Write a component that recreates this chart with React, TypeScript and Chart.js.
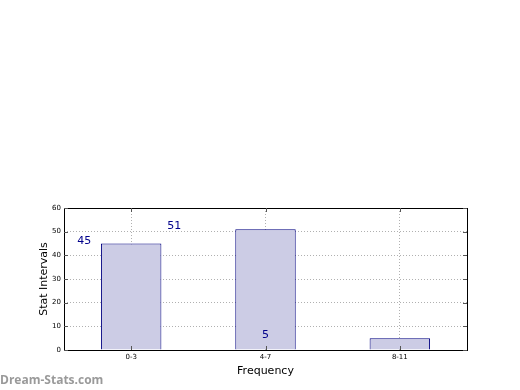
import React, { useEffect, useRef } from "react";
import { Chart, registerables } from "chart.js";

Chart.register(...registerables);

const categories = ["0-3", "4-7", "8-11"];
const values = [45, 51, 5];
const valueLabels = ["45", "51", "5"];
// label positions along the category axis (in category index units), as in the reference
const labelPositions = [-0.35, 0.32, 1.0];
const yTicks = [0, 10, 20, 30, 40, 50, 60];
const xTitle = "Frequency";
const yTitle = "Stat Intervals";

const frame = {
  id: "frame",
  afterDatasetsDraw(chart: any) {
    const { ctx, chartArea: a, scales } = chart;
    ctx.save();
    // value labels
    ctx.fillStyle = "#00008b";
    ctx.font = "11px 'DejaVu Sans'";
    ctx.textAlign = "center";
    ctx.textBaseline = "alphabetic";
    valueLabels.forEach((t, i) => {
      const x = scales.x.getPixelForValue(labelPositions[i]);
      const y = scales.y.getPixelForValue(values[i]);
      ctx.fillText(t, x, y);
    });
    // frame
    ctx.strokeStyle = "#000";
    ctx.lineWidth = 1;
    ctx.strokeRect(Math.round(a.left) + 0.5, Math.round(a.top) + 0.5, Math.round(a.right - a.left), Math.round(a.bottom - a.top));
    // inner ticks
    ctx.strokeStyle = "#555";
    yTicks.forEach((v) => {
      const y = Math.round(scales.y.getPixelForValue(v)) + 0.5;
      ctx.beginPath();
      ctx.moveTo(a.left, y);
      ctx.lineTo(a.left + 4, y);
      ctx.moveTo(a.right, y);
      ctx.lineTo(a.right - 4, y);
      ctx.stroke();
    });
    categories.forEach((_, i) => {
      const x = Math.round(scales.x.getPixelForValue(i)) + 0.5;
      ctx.beginPath();
      ctx.moveTo(x, a.bottom);
      ctx.lineTo(x, a.bottom - 4);
      ctx.moveTo(x, a.top);
      ctx.lineTo(x, a.top + 4);
      ctx.stroke();
    });
    // axis titles
    ctx.fillStyle = "#000";
    ctx.font = "11px 'DejaVu Sans'";
    ctx.textAlign = "center";
    ctx.textBaseline = "alphabetic";
    ctx.fillText(xTitle, (a.left + a.right) / 2, 374);
    ctx.save();
    ctx.translate(47, (a.top + a.bottom) / 2);
    ctx.rotate(-Math.PI / 2);
    ctx.fillText(yTitle, 0, 0);
    ctx.restore();
    // watermark
    ctx.fillStyle = "#9a9a9a";
    ctx.font = "bold 12px 'Open Sans'";
    ctx.textAlign = "left";
    ctx.fillText("Dream-Stats.com", 0, 384);
    ctx.restore();
  },
};

export default function App() {
  const ref = useRef<HTMLCanvasElement | null>(null);
  useEffect(() => {
    document.body.style.margin = "0";
    const chart = new Chart(ref.current as HTMLCanvasElement, {
      type: "bar",
      data: {
        labels: categories,
        datasets: [
          {
            data: values,
            backgroundColor: "#ccccE5",
            borderColor: "#000080",
            borderWidth: 1,
            barPercentage: 0.45,
            categoryPercentage: 1,
          },
        ],
      },
      options: {
        animation: false,
        responsive: false,
        layout: { padding: { top: 208, right: 53, bottom: 0, left: 0 } },
        plugins: { legend: { display: false }, tooltip: { enabled: false } },
        scales: {
          x: {
            grid: { color: "#b0b0b0", offset: false, drawTicks: false, tickLength: 0 },
            border: { display: false, dash: [1, 2] },
            ticks: { color: "#000", font: { family: "DejaVu Sans", size: 7 }, padding: 3 },
            afterFit: (s: any) => { s.height = 40; },
          },
          y: {
            min: 0,
            max: 60,
            grid: { color: "#b0b0b0", drawTicks: false, tickLength: 0 },
            border: { display: false, dash: [1, 2] },
            ticks: { stepSize: 10, color: "#000", font: { family: "DejaVu Sans", size: 7 }, padding: 3 },
            afterFit: (s: any) => { s.width = 64; },
          },
        },
      },
      plugins: [frame],
    });
    return () => chart.destroy();
  }, []);
  return (
    <div style={{ position: "absolute", left: 0, top: 0, width: 520, height: 390 }}>
      <canvas ref={ref} width={520} height={390} />
    </div>
  );
}
